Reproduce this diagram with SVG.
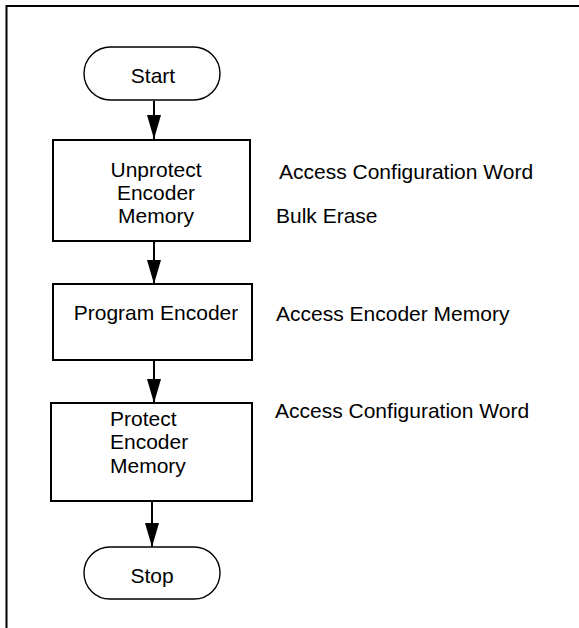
<svg xmlns="http://www.w3.org/2000/svg" width="579" height="628" viewBox="0 0 579 628">
<style>
  text { font-family: "Liberation Sans", Arial, sans-serif; font-size: 21px; fill: #000; }
  .box { fill: #fff; stroke: #000; stroke-width: 2; }
  .term { fill: #fff; stroke: #000; stroke-width: 1.4; }
  .conn { stroke: #000; stroke-width: 2; fill: none; marker-end: url(#arrow); }
  .frame { stroke: #000; stroke-width: 2; fill: none; }
  .c { text-anchor: middle; }
</style>
<defs>
  <marker id="arrow" markerUnits="userSpaceOnUse" markerWidth="24" markerHeight="14" refX="24" refY="7" orient="auto">
    <path d="M0,0 L24,7 L0,14 z" fill="#000"/>
  </marker>
</defs>
<rect x="0" y="0" width="579" height="628" fill="#fff"/>
<path class="frame" d="M6.5,628 V6 H579"/>
<g id="connectors">
  <line class="conn" x1="154" y1="101" x2="154" y2="139"/>
  <line class="conn" x1="154" y1="241" x2="154" y2="284"/>
  <line class="conn" x1="154" y1="360" x2="154" y2="403"/>
  <line class="conn" x1="152" y1="501" x2="152" y2="547"/>
</g>
<g id="start">
  <rect class="term" x="84" y="47" width="136" height="53" rx="26.5" ry="26.5"/>
  <text class="c" x="153" y="83">Start</text>
</g>
<g id="unprotect">
  <rect class="box" x="53" y="140" width="197" height="101"/>
  <text class="c" x="156" y="177">Unprotect</text>
  <text class="c" x="156" y="200">Encoder</text>
  <text class="c" x="156" y="223">Memory</text>
</g>
<g id="program">
  <rect class="box" x="53" y="284" width="199" height="76"/>
  <text class="c" x="156" y="320">Program Encoder</text>
</g>
<g id="protect">
  <rect class="box" x="51" y="403" width="201" height="98"/>
  <text x="110" y="426">Protect</text>
  <text x="110" y="449">Encoder</text>
  <text x="110" y="473">Memory</text>
</g>
<g id="stop">
  <rect class="term" x="84" y="547" width="136" height="52" rx="26" ry="26"/>
  <text class="c" x="152" y="583">Stop</text>
</g>
<g id="notes">
  <text x="279" y="179">Access Configuration Word</text>
  <text x="276" y="223">Bulk Erase</text>
  <text x="276" y="321">Access Encoder Memory</text>
  <text x="275" y="418">Access Configuration Word</text>
</g>
</svg>
